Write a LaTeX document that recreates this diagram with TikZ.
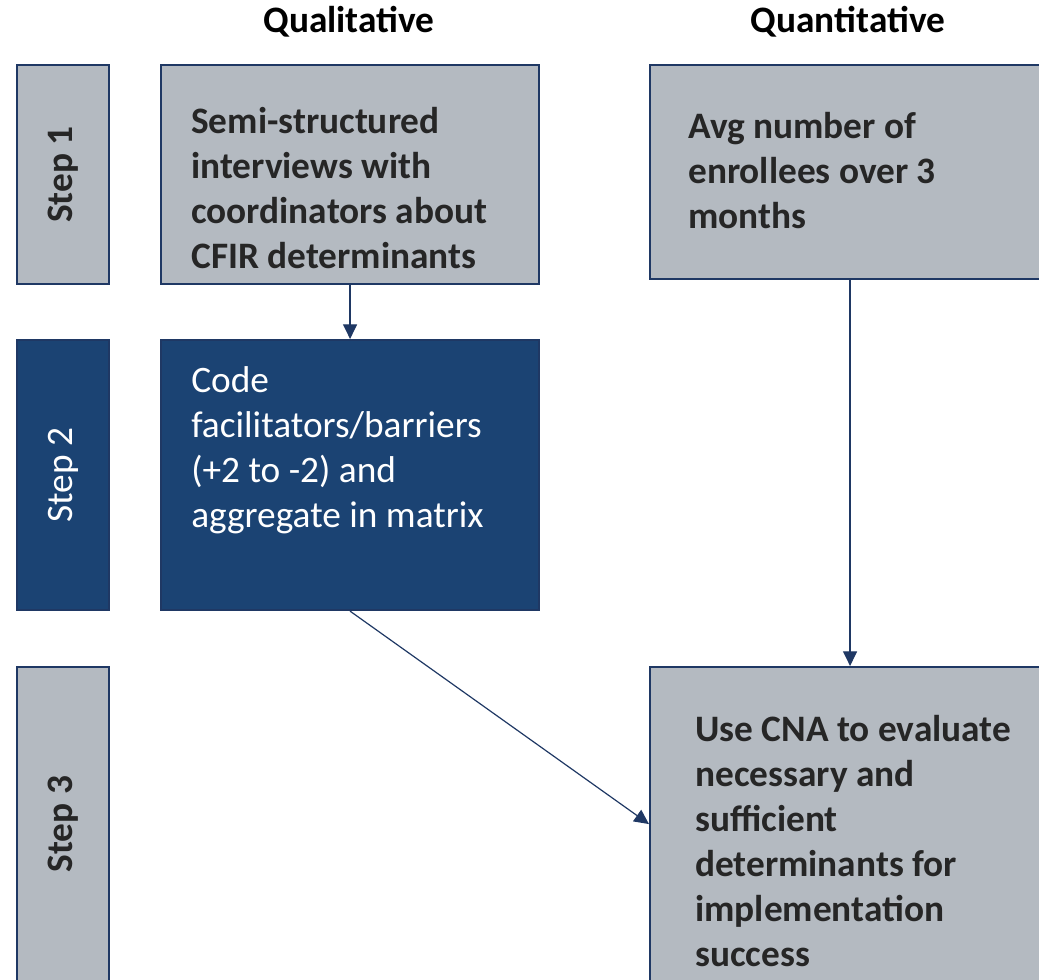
\documentclass[tikz,border=0pt]{standalone}
\usepackage{fontspec}
\setmainfont{Carlito}
\usetikzlibrary{arrows.meta,positioning,calc}

\definecolor{stepgray}{RGB}{180,186,193}
\definecolor{stepblue}{RGB}{27,67,115}
\definecolor{edgeblue}{RGB}{31,56,100}
\definecolor{inkdark}{RGB}{38,38,38}

\newcommand\bodyfont{\fontsize{28}{33.75}\selectfont}

\tikzset{
	graybox/.style={draw=edgeblue, line width=1.6pt, fill=stepgray, anchor=north west, inner sep=0pt},
	bluebox/.style={draw=edgeblue, line width=1.6pt, fill=stepblue, anchor=north west, inner sep=0pt},
	boxtext/.style={anchor=base west, align=left, inner sep=0pt, font=\bodyfont\bfseries, text=inkdark},
	whitetext/.style={anchor=base west, align=left, inner sep=0pt, font=\bodyfont, text=white},
	steptext/.style={rotate=90, inner sep=0pt, font=\bodyfont\bfseries, text=inkdark},
	flow/.style={draw=edgeblue, line width=0.9pt, -{Triangle[width=10.5pt,length=11pt]}},
}

\begin{document}
\begin{tikzpicture}[x=0.75pt, y=-0.75pt]

	% ---- frame

	\useasboundingbox (0,0) rectangle (1039,979);

	% ---- column headers

	\node[anchor=base, font=\fontsize{28}{32}\selectfont\bfseries] (qual) at (349,32) {Qualitative};
	\node[anchor=base, font=\fontsize{28}{32}\selectfont\bfseries] (quan) at (848,32) {Quantitative};

	% ---- step labels

	\node[graybox, minimum width=92*0.75pt, minimum height=219*0.75pt] (step1) at (16,64) {};
	\node[bluebox, minimum width=92*0.75pt, minimum height=270*0.75pt] (step2) at (16,339) {};
	\node[graybox, minimum width=92*0.75pt, minimum height=314*0.75pt] (step3) at (16,666) {};

	\node[steptext] at (step1.center) {Step 1};
	\node[steptext, font=\bodyfont, text=white] at (step2.center) {Step 2};
	\node[steptext] at (step3.center) {Step 3};

	% ---- boxes

	\node[graybox, minimum width=378*0.75pt, minimum height=219*0.75pt] (interviews) at (160,64) {};
	\node[graybox, minimum width=400*0.75pt, minimum height=214*0.75pt] (enrollees) at (649,64) {};
	\node[bluebox, minimum width=378*0.75pt, minimum height=270*0.75pt] (coding) at (160,339) {};
	\node[graybox, minimum width=400*0.75pt, minimum height=314*0.75pt] (cna) at (649,666) {};

	% ---- box texts (anchored at the last baseline)

	\node[boxtext] (interviewstext) at ($(interviews.north west)+(31,204)$)
		{Semi-structured\\interviews with\\coordinators about\\CFIR determinants};
	\node[boxtext] (enrolleestext) at ($(enrollees.north west)+(39,164)$)
		{Avg number of\\enrollees over 3\\months};
	\node[whitetext] (codingtext) at ($(coding.north west)+(31,188)$)
		{Code\\facilitators/barriers\\(+2 to -2) and\\aggregate in matrix};
	\node[boxtext] (cnatext) at ($(cna.north west)+(46,300)$)
		{Use CNA to evaluate\\necessary and\\sufficient\\determinants for\\implementation\\success};

	% ---- arrows

	\draw[flow] (interviews.south) -- (coding.north);
	\draw[flow] (enrollees.south) -- (cna.north);
	\draw[flow] (coding.south) -- (cna.west);

\end{tikzpicture}
\end{document}
